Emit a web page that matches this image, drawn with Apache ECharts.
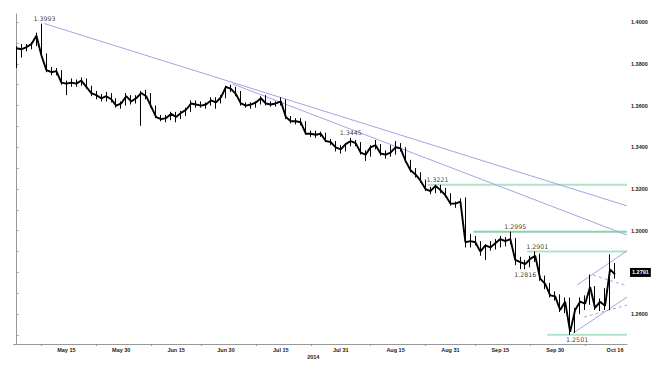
<!DOCTYPE html>
<html><head><meta charset="utf-8">
<script src="https://cdn.jsdelivr.net/npm/echarts@6/dist/echarts.min.js"></script>
<style>html,body{margin:0;padding:0;background:#fff}#c{width:662px;height:383px}</style>
</head><body><div id="c"></div>
<script>
// Daily EUR/USD candles, trading days from 2014-05-01 to 2014-10-16: [open, close, low, high]
const ohlc = [
[1.3800,1.3875,1.3780,1.3885],[1.3875,1.3870,1.3830,1.3895],[1.3870,1.3880,1.3860,1.3895],[1.3880,1.3895,1.3870,1.3905],
[1.3895,1.3935,1.3885,1.3950],[1.3925,1.3840,1.3830,1.3993],[1.3840,1.3770,1.3760,1.3850],[1.3770,1.3760,1.3745,1.3785],
[1.3760,1.3765,1.3745,1.3780],[1.3765,1.3710,1.3700,1.3770],[1.3710,1.3705,1.3650,1.3720],[1.3705,1.3710,1.3690,1.3730],
[1.3710,1.3705,1.3690,1.3725],[1.3705,1.3720,1.3695,1.3735],[1.3720,1.3690,1.3680,1.3730],[1.3690,1.3660,1.3645,1.3695],
[1.3660,1.3650,1.3630,1.3670],[1.3650,1.3635,1.3620,1.3655],[1.3635,1.3645,1.3620,1.3665],[1.3645,1.3630,1.3615,1.3660],
[1.3630,1.3600,1.3590,1.3635],[1.3600,1.3610,1.3585,1.3620],[1.3610,1.3645,1.3600,1.3660],[1.3645,1.3620,1.3605,1.3650],
[1.3620,1.3635,1.3610,1.3650],[1.3635,1.3660,1.3503,1.3670],[1.3660,1.3645,1.3630,1.3675],[1.3645,1.3595,1.3590,1.3660],
[1.3595,1.3545,1.3540,1.3600],[1.3545,1.3535,1.3525,1.3555],[1.3535,1.3540,1.3520,1.3555],[1.3540,1.3560,1.3530,1.3570],
[1.3560,1.3545,1.3520,1.3570],[1.3545,1.3565,1.3535,1.3575],[1.3565,1.3580,1.3550,1.3590],[1.3580,1.3610,1.3570,1.3625],
[1.3610,1.3605,1.3590,1.3625],[1.3605,1.3600,1.3590,1.3620],[1.3600,1.3605,1.3585,1.3615],[1.3605,1.3625,1.3600,1.3640],
[1.3625,1.3615,1.3585,1.3640],[1.3615,1.3640,1.3610,1.3650],[1.3640,1.3690,1.3635,1.3695],[1.3690,1.3680,1.3665,1.3700],
[1.3680,1.3655,1.3645,1.3690],[1.3655,1.3610,1.3600,1.3670],[1.3610,1.3600,1.3590,1.3615],[1.3600,1.3605,1.3585,1.3615],
[1.3605,1.3615,1.3590,1.3620],[1.3615,1.3635,1.3605,1.3645],[1.3635,1.3610,1.3600,1.3650],[1.3610,1.3605,1.3595,1.3620],
[1.3605,1.3610,1.3595,1.3620],[1.3610,1.3620,1.3600,1.3640],[1.3620,1.3545,1.3535,1.3630],[1.3545,1.3525,1.3515,1.3550],
[1.3525,1.3525,1.3510,1.3540],[1.3525,1.3520,1.3505,1.3540],[1.3520,1.3465,1.3460,1.3525],[1.3465,1.3465,1.3450,1.3480],
[1.3465,1.3460,1.3445,1.3480],[1.3460,1.3465,1.3450,1.3475],[1.3465,1.3430,1.3425,1.3470],[1.3430,1.3425,1.3410,1.3440],
[1.3425,1.3400,1.3380,1.3430],[1.3400,1.3390,1.3370,1.3410],[1.3390,1.3415,1.3380,1.3420],[1.3415,1.3430,1.3405,1.3445],
[1.3430,1.3420,1.3405,1.3435],[1.3420,1.3375,1.3365,1.3425],[1.3375,1.3365,1.3335,1.3385],[1.3365,1.3400,1.3355,1.3410],
[1.3400,1.3410,1.3390,1.3435],[1.3410,1.3370,1.3360,1.3415],[1.3370,1.3365,1.3345,1.3385],[1.3365,1.3375,1.3355,1.3410],
[1.3375,1.3400,1.3365,1.3430],[1.3400,1.3395,1.3380,1.3420],[1.3395,1.3335,1.3325,1.3400],[1.3335,1.3290,1.3280,1.3340],
[1.3290,1.3270,1.3255,1.3300],[1.3270,1.3240,1.3230,1.3280],[1.3240,1.3200,1.3190,1.3245],[1.3200,1.3190,1.3175,1.3210],
[1.3190,1.3215,1.3180,1.3221],[1.3215,1.3195,1.3180,1.3220],[1.3195,1.3170,1.3160,1.3205],[1.3170,1.3130,1.3120,1.3180],
[1.3130,1.3130,1.3110,1.3140],[1.3130,1.3140,1.3120,1.3155],[1.3140,1.2945,1.2920,1.3160],[1.2945,1.2950,1.2920,1.2985],
[1.2950,1.2945,1.2930,1.2975],[1.2945,1.2900,1.2880,1.2950],[1.2900,1.2930,1.2860,1.2935],[1.2930,1.2920,1.2905,1.2950],
[1.2920,1.2940,1.2910,1.2960],[1.2940,1.2960,1.2920,1.2975],[1.2960,1.2950,1.2925,1.2970],[1.2950,1.2960,1.2935,1.2995],
[1.2960,1.2860,1.2835,1.2965],[1.2860,1.2850,1.2816,1.2875],[1.2850,1.2840,1.2816,1.2860],[1.2840,1.2865,1.2825,1.2880],
[1.2865,1.2880,1.2850,1.2901],[1.2880,1.2770,1.2760,1.2890],[1.2770,1.2745,1.2720,1.2785],[1.2745,1.2690,1.2680,1.2750],
[1.2690,1.2685,1.2665,1.2710],[1.2685,1.2620,1.2610,1.2695],[1.2620,1.2660,1.2605,1.2680],[1.2660,1.2515,1.2501,1.2680],
[1.2515,1.2620,1.2510,1.2630],[1.2620,1.2660,1.2600,1.2680],[1.2660,1.2650,1.2620,1.2690],[1.2650,1.2730,1.2645,1.2790],
[1.2730,1.2630,1.2620,1.2735],[1.2630,1.2660,1.2615,1.2675],[1.2660,1.2640,1.2620,1.2725],[1.2640,1.2815,1.2620,1.2887],
[1.2815,1.2791,1.2770,1.2845]
];
// x-axis labels at trading-day index
const xTickLabels = ['May 15','May 30','Jun 15','Jun 30','Jul 15','Jul 31','Aug 15','Aug 31','Sep 15','Sep 30','Oct 16'];
const xTickPos = [10,21,32,42,53,65,76,87,97,108,120];
const xMinorPos = [5,16,27,37,48,59,71,82,92,103,114];
const yearLabel = '2014';
const yLabelValues = [1.26,1.30,1.32,1.34,1.36,1.38,1.40];
const yTickValues = [1.25,1.26,1.27,1.28,1.29,1.30,1.31,1.32,1.33,1.34,1.35,1.36,1.37,1.38,1.39,1.40];
const lastPrice = 1.2791;
// trend lines [dayIndex, price]
const trendA = [[5.6,1.3993],[122.4,1.3119]];
const trendB = [[43.3,1.3704],[122.4,1.2979]];
const channelUp = [[112.4,1.2740],[122.4,1.2904]];
const channelLow = [[111.6,1.2509],[122.4,1.2682]];
const dashUp = [[115.6,1.2788],[122.4,1.2735]];
const dashLow = [[113.8,1.2586],[122.4,1.2644]];
// horizontal levels
const levelValues = [1.3221,1.2995,1.2901,1.2501];
const levelStart = [82.4,91.6,102.4,106.4];
// annotations
const noteText = ['1.3993','1.3445','1.3221','1.2995','1.2901','1.2816','1.2501'];
const noteX = [5.6,67,84.4,100,104.4,102.0,112.4];
const noteY = [1.3993,1.3445,1.3221,1.2995,1.2901,1.2816,1.2501];
const notePos = ['top','top','top','top','top','bottom','bottom'];

const X_MIN = -0.6, X_MAX = 122.4;
const chart = echarts.init(document.getElementById('c'), null, {renderer:'svg'});
const purple = '#a3a3e3';
function tl(data, dashed){
  return {type:'line', data, symbol:'none', silent:true, z:1,
    lineStyle:{color:purple, width:1, type: dashed ? [3,3] : 'solid'}};
}
const series = [];
levelValues.forEach((v,i)=>{
  series.push({type:'line', data:[[levelStart[i],v],[X_MAX,v]], symbol:'none', silent:true, z:1,
    lineStyle:{color: i===1 ? '#86d2ab' : '#ade3c8', width:2}});
});
series.push(tl(trendA), tl(trendB), tl(channelUp), tl(channelLow), tl(dashUp,true), tl(dashLow,true));
series.push({
  type:'candlestick', z:3,
  data: ohlc.map((d,i)=>[i, d[0], d[1], d[2], d[3]]),
  encode:{x:0, y:[1,2,3,4]},
  barWidth:1,
  itemStyle:{color:'#000', color0:'#000', borderColor:'#000', borderColor0:'#000', borderWidth:1}
});
series.push({
  type:'line', z:3, symbol:'none', silent:true,
  data: ohlc.map((d,i)=>[i, d[1]]),
  lineStyle:{color:'#000', width:1.9},
  markLine:{silent:true, symbol:'none', data:[{yAxis:lastPrice}], lineStyle:{color:'rgba(0,0,0,0)', width:0},
    label:{show:true, position:'end', formatter:lastPrice.toFixed(4), backgroundColor:'#000', color:'#fff',
      fontSize:5.5, fontFamily:'Liberation Sans', fontWeight:'bold', padding:[2,2,1,2], distance:3}}
});
series.push({
  type:'scatter', symbolSize:0, silent:true, z:6,
  data: noteText.map((t,i)=>({value:[noteX[i],noteY[i]], name:t,
    label:{position:notePos[i]}})),
  label:{show:true, formatter:p=>p.name, fontSize:6.3, color:'#000', fontFamily:'DejaVu Sans', distance:2}
});

chart.setOption({
  animation:false,
  backgroundColor:'#fff',
  grid:{left:13.5, right:35, top:14, bottom:39},
  xAxis:{type:'value', min:X_MIN, max:X_MAX,
    name:yearLabel, nameLocation:'middle', nameGap:10, nameMoveOverlap:false,
    nameTextStyle:{fontSize:5.5, color:'#222', fontFamily:'Liberation Sans', fontWeight:'bold', padding:[0,14,0,0]},
    axisLine:{show:true, lineStyle:{color:'#999', width:1}},
    axisTick:{show:true, customValues:xMinorPos, length:2, lineStyle:{color:'#999'}},
    axisLabel:{customValues:xTickPos, margin:3, fontSize:5.5, color:'#222', fontFamily:'Liberation Sans', fontWeight:'bold',
      formatter:v=>{const k=xTickPos.indexOf(Math.round(v)); return k>=0?xTickLabels[k]:'';}},
    splitLine:{show:false}},
  yAxis:{type:'value', position:'right', min:1.2457, max:1.4039, scale:true,
    axisLine:{show:true, lineStyle:{color:'#999', width:1}},
    axisTick:{show:true, customValues:yTickValues, length:2, lineStyle:{color:'#999'}},
    axisLabel:{customValues:yLabelValues, margin:4, fontSize:5.5, color:'#222', fontFamily:'Liberation Sans', fontWeight:'bold',
      formatter:v=>v.toFixed(4)},
    splitLine:{show:false}},
  series
});
</script></body></html>
